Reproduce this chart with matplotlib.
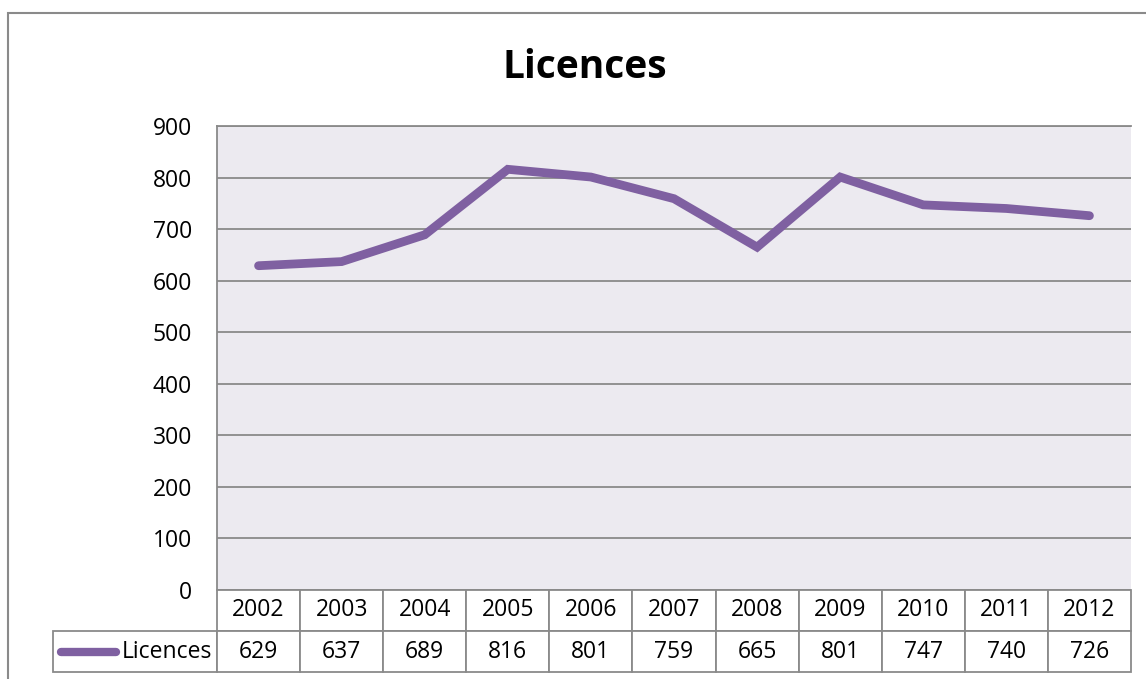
import matplotlib
matplotlib.use("Agg")
import matplotlib.pyplot as plt
from matplotlib.patches import Rectangle

plt.rcParams['font.family'] = ['Open Sans', 'DejaVu Sans']

years = ['2002', '2003', '2004', '2005', '2006', '2007', '2008', '2009', '2010', '2011', '2012']
licences = [629, 637, 689, 816, 801, 759, 665, 801, 747, 740, 726]
series_name = 'Licences'
yticks = [0, 100, 200, 300, 400, 500, 600, 700, 800, 900]

purple = '#7f60a1'
grid_col = '#8a8a8a'
fs = 16.5

W, H = 1146, 679
fig = plt.figure(figsize=(W / 100, H / 100), dpi=100)

# cadre extérieur du graphique
fig.patches.append(Rectangle((8 / W, -0.1), 1.2, 1 - 13 / H + 0.1, transform=fig.transFigure,
                             fill=False, edgecolor=grid_col, lw=1.5))

ax = fig.add_axes([217 / W, 1 - 590 / H, 914 / W, 464 / H])
ax.set_facecolor('#eceaf0')

x = list(range(len(years)))
ax.plot(x, licences, color=purple, lw=6.3, solid_capstyle='round', solid_joinstyle='miter', zorder=3)

ax.set_xlim(-0.5, len(years) - 0.5)
ax.set_ylim(0, 900)
ax.set_yticks(yticks)
ax.set_yticklabels([str(v) for v in yticks], fontsize=fs)
ax.tick_params(axis='y', length=0, pad=18)
ax.set_xticks([])
ax.grid(axis='y', color=grid_col, lw=1.3)
ax.set_axisbelow(True)
for side in ['right', 'bottom']:
    ax.spines[side].set_visible(False)
for side in ['left', 'top']:
    ax.spines[side].set_color(grid_col)
    ax.spines[side].set_linewidth(1.3)

fig.text(585 / W, 1 - 68 / H, 'Licences', fontsize=28, fontweight='bold', ha='center', va='center')

# tableau de données
col_w = 914 / 11
label_w = 164
cells = [[''] + years, [series_name] + [str(v) for v in licences]]
tbl = ax.table(cellText=cells, colWidths=[label_w] + [col_w] * 11,
               bbox=[-label_w / 914, -82 / 464, 1 + label_w / 914, 82 / 464],
               cellLoc='center')
tbl.auto_set_font_size(False)
tbl.set_fontsize(fs)
for (r, c), cell in tbl.get_celld().items():
    cell.set_edgecolor(grid_col)
    cell.set_linewidth(1.3)
    cell.set_facecolor('white')
    if r == 0 and c == 0:
        cell.visible_edges = ''
    if r == 1 and c == 0:
        cell.get_text().set_ha('right')
        cell.PAD = 0.03

# clé de légende dans la cellule
ax.plot([-156 / 914, -101 / 914], [-62 / 464, -62 / 464], transform=ax.transAxes,
        color=purple, lw=6, solid_capstyle='round', clip_on=False)

fig.savefig('out.png', dpi=100)
